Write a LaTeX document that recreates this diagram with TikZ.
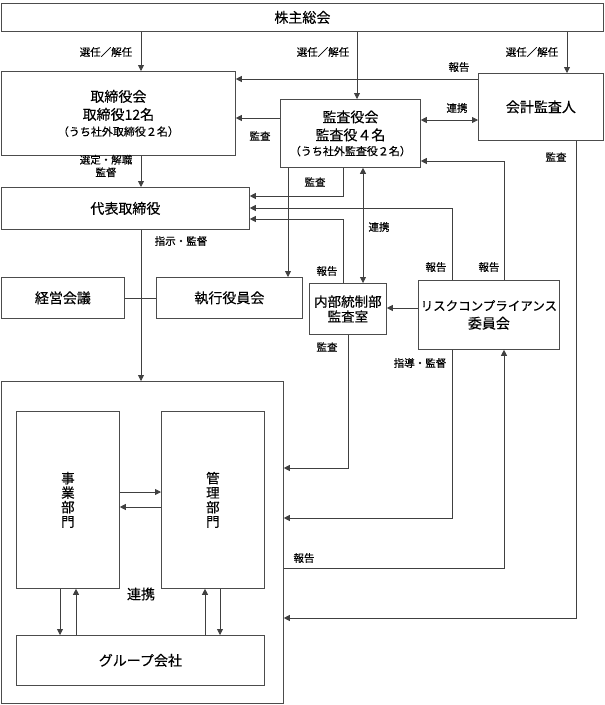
\documentclass[tikz,border=0pt]{standalone}
\usepackage{fontspec}
\setmainfont{Noto Sans CJK JP}[FakeBold=0.3]
\usetikzlibrary{arrows.meta,positioning}

\begin{document}
\begin{tikzpicture}[x=1pt,y=-1pt,font=\fontsize{14}{18}\selectfont]
\tikzset{
    %Define standard arrow tip
    >={Triangle[length=6pt,width=6pt]},
    %Define style for boxes
    waku/.style={
           rectangle,
           draw=black!70, line width=0.8pt,
           anchor=north west,
           inner sep=0pt,
           align=center},
    % Define arrow style
    yaji/.style={
           ->,
           draw=black!75, line width=0.8pt},
    sen/.style={
           draw=black!75, line width=0.8pt},
    % small labels
    chu/.style={font=\fontsize{10.5}{12.5}\selectfont, inner sep=0pt}
}
	\path[use as bounding box] (0,0) rectangle (605,705);

 %nodes
	\node[waku,minimum width=602pt,minimum height=28pt] (soukai) at (1,3) {株主総会};
	\node[waku,minimum width=234pt,minimum height=84pt] (torishimari) at (1,71) {取締役会\\取締役12名\\[-2pt]{\fontsize{11}{13}\selectfont （うち社外取締役２名）}};
	\node[waku,minimum width=140pt,minimum height=68pt] (kansayaku) at (280,99) {監査役会\\監査役４名\\[-3pt]{\fontsize{11}{13}\selectfont （うち社外監査役２名）}};
	\node[waku,minimum width=125pt,minimum height=67pt] (kaikei) at (478,73) {会計監査人};
	\node[waku,minimum width=248pt,minimum height=42pt] (daihyo) at (1,187) {代表取締役};
	\node[waku,minimum width=123pt,minimum height=41pt] (keiei) at (1,277) {経営会議};
	\node[waku,minimum width=146pt,minimum height=41pt] (shikko) at (156,277) {執行役員会};
	\node[waku,minimum width=77pt,minimum height=51pt,font=\fontsize{13.5}{16}\selectfont] (naibu) at (309,283) {内部統制部\\[-1pt]監査室};
	\node[waku,minimum width=141pt,minimum height=69pt] (risk) at (418,280) {{\fontsize{12.5}{16}\selectfont リスクコンプライアンス}\\委員会};
	\node[waku,minimum width=282pt,minimum height=322pt] (outer) at (1,381) {};
	\node[waku,minimum width=103pt,minimum height=177pt,font=\fontsize{13.5}{14.5}\selectfont] (jigyo) at (16,411) {事\\業\\部\\門};
	\node[waku,minimum width=103pt,minimum height=177pt,font=\fontsize{13.5}{14.5}\selectfont] (kanri) at (161,411) {管\\理\\部\\門};
	\node[waku,minimum width=248pt,minimum height=50pt] (groupco) at (16,635) {グループ会社};

 %route levels
	\coordinate (sx1) at (141,0);
	\coordinate (sx2) at (357,0);
	\coordinate (sx3) at (567,0);
	\coordinate (kx1) at (343,0);
	\coordinate (kx2) at (288,0);
	\coordinate (kx3) at (363,0);
	\coordinate (nx1) at (348,0);
	\coordinate (rx1) at (452,0);
	\coordinate (rx2) at (504,0);
	\coordinate (ax1) at (576,0);
	\coordinate (gx1) at (60,0);
	\coordinate (gx2) at (76,0);
	\coordinate (gx3) at (205,0);
	\coordinate (gx4) at (220,0);
	\coordinate (y79) at (0,79);
	\coordinate (y118) at (0,118);
	\coordinate (y120) at (0,120);
	\coordinate (y161) at (0,161);
	\coordinate (y196) at (0,196);
	\coordinate (y208) at (0,208);
	\coordinate (y219) at (0,219);
	\coordinate (y308) at (0,308);
	\coordinate (y468) at (0,468);
	\coordinate (y492) at (0,492);
	\coordinate (y507) at (0,507);
	\coordinate (y518) at (0,518);
	\coordinate (y568) at (0,568);
	\coordinate (y618) at (0,618);

 %connectors
	\draw[yaji] (soukai.south -| sx1) -- (torishimari.north -| sx1);
	\draw[yaji] (soukai.south -| sx2) -- (kansayaku.north -| sx2);
	\draw[yaji] (soukai.south -| sx3) -- (kaikei.north -| sx3);
	\draw[yaji] (kaikei.west |- y79) -- (torishimari.east |- y79);
	\draw[yaji] (kansayaku.west |- y118) -- (torishimari.east |- y118);
	\draw[yaji,<->] (kansayaku.east |- y120) -- (kaikei.west |- y120);
	\draw[yaji] (risk.north -| rx2) |- (kansayaku.east |- y161);
	\draw[yaji] (kaikei.south -| ax1) |- (outer.east |- y618);
	\draw[yaji] (torishimari.south -| sx1) -- (daihyo.north -| sx1);
	\draw[yaji] (kansayaku.south -| kx1) |- (daihyo.east |- y196);
	\draw[yaji] (risk.north -| rx1) |- (daihyo.east |- y208);
	\draw[yaji] (naibu.north -| kx1) |- (daihyo.east |- y219);
	\draw[yaji] (kansayaku.south -| kx2) -- (shikko.north -| kx2);
	\draw[yaji,<->] (kansayaku.south -| kx3) -- (naibu.north -| kx3);
	\draw[yaji] (risk.west |- y308) -- (naibu.east |- y308);
	\draw[yaji] (daihyo.south -| sx1) -- (outer.north -| sx1);
	\draw[sen] (keiei.east) -- (shikko.west);
	\draw[yaji] (naibu.south -| nx1) |- (outer.east |- y468);
	\draw[yaji] (risk.south -| rx1) |- (outer.east |- y518);
	\draw[yaji] (outer.east |- y568) -| (risk.south -| rx2);
	\draw[yaji] (jigyo.east |- y492) -- (kanri.west |- y492);
	\draw[yaji] (kanri.west |- y507) -- (jigyo.east |- y507);
	\draw[yaji] (jigyo.south -| gx1) -- (groupco.north -| gx1);
	\draw[yaji] (groupco.north -| gx2) -- (jigyo.south -| gx2);
	\draw[yaji] (groupco.north -| gx3) -- (kanri.south -| gx3);
	\draw[yaji] (kanri.south -| gx4) -- (groupco.north -| gx4);

 %labels
	\node[chu] (l1) at (106,52) {選任／解任};
	\node[chu] (l2) at (323,52) {選任／解任};
	\node[chu] (l3) at (532,52) {選任／解任};
	\node[chu] (l4) at (459,67) {報告};
	\node[chu] (l5) at (260,136) {監査};
	\node[chu] (l6) at (457,108) {連携};
	\node[chu] (l7) at (556,157) {監査};
	\node[chu,align=center] (l8) at (106,166) {選定・解職\\監督};
	\node[chu] (l9) at (315,182) {監査};
	\node[chu] (l10) at (379,227) {連携};
	\node[chu] (l11) at (181,241) {指示・監督};
	\node[chu] (l12) at (327,271) {報告};
	\node[chu] (l13) at (436,267) {報告};
	\node[chu] (l14) at (489,267) {報告};
	\node[chu] (l15) at (327,347) {監査};
	\node[chu] (l16) at (420,363) {指導・監督};
	\node[chu] (l17) at (304,558) {報告};
	\node (l18) at (141,594) {連携};

\end{tikzpicture}
\end{document}
